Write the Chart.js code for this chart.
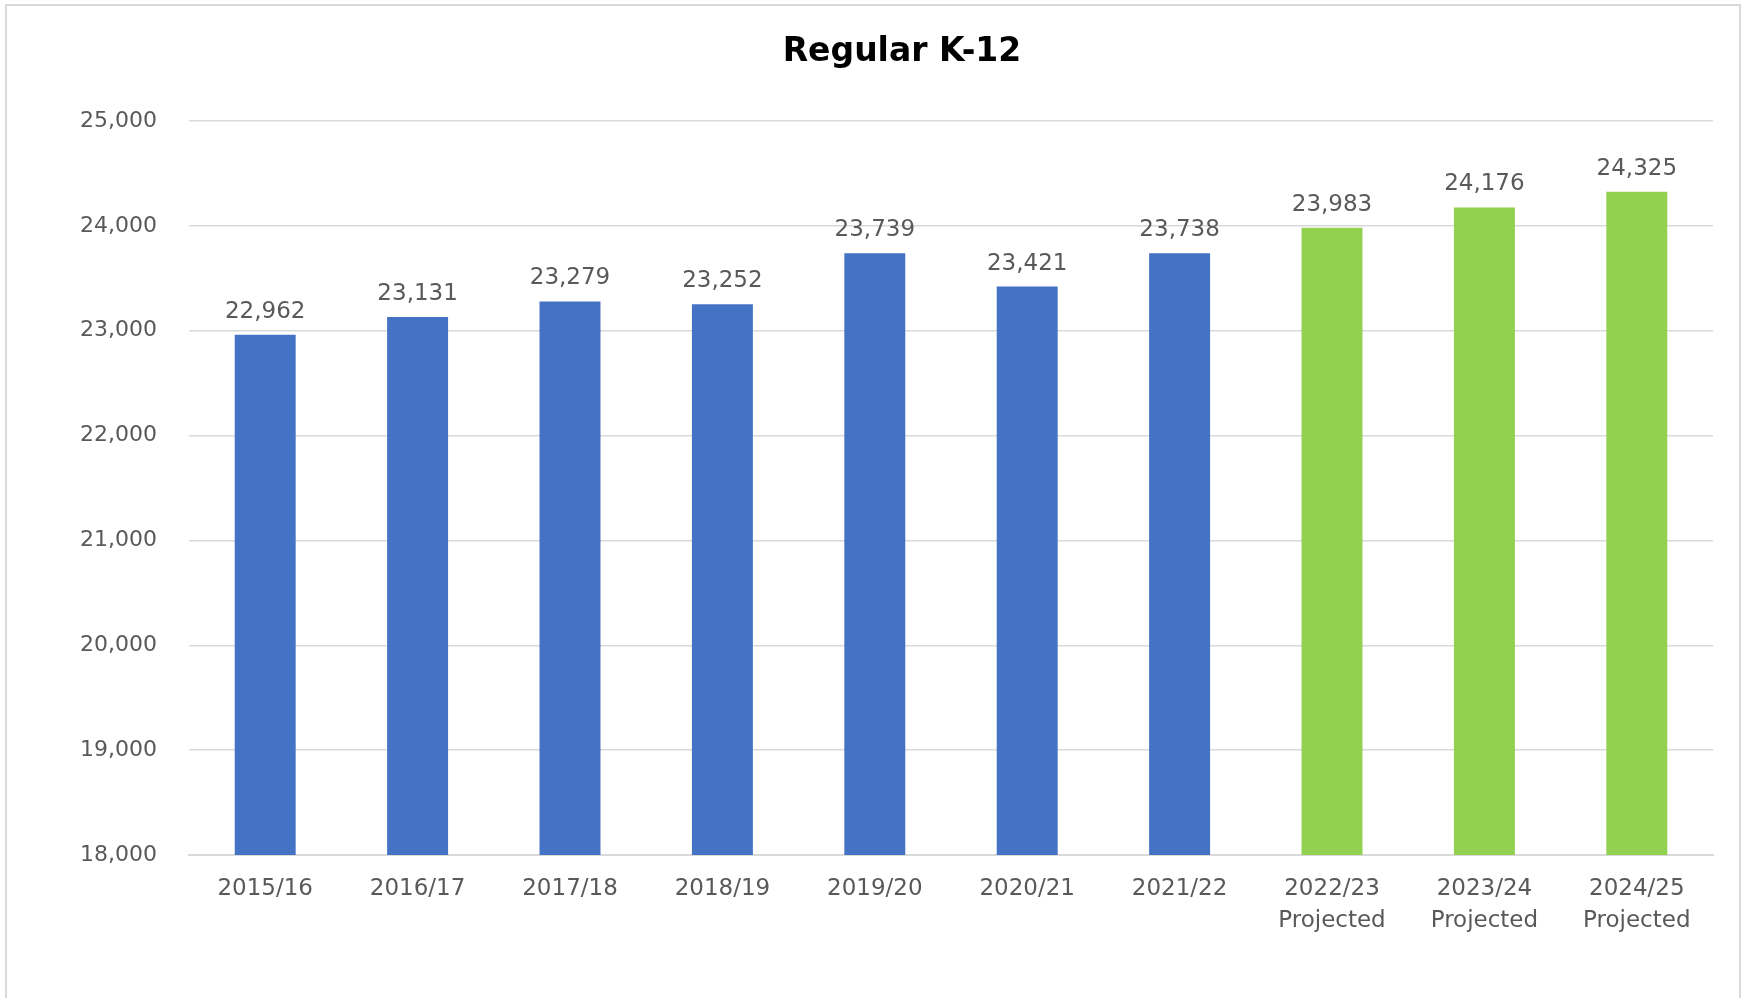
<!DOCTYPE html>
<html>
<head>
<meta charset="utf-8">
<script src="https://cdn.jsdelivr.net/npm/chart.js@4/dist/chart.umd.min.js"></script>
<style>
  html, body { margin: 0; padding: 0; background: #ffffff; }
  #frame { position: absolute; left: 5px; top: 4px; width: 1736px; height: 1000px; border: 2px solid #d9d9d9; box-sizing: border-box; }
  #wrap { position: absolute; left: 0; top: 0; width: 1747px; height: 998px; }
</style>
</head>
<body>
<div id="frame"></div>
<div id="wrap"><canvas id="c"></canvas></div>
<script>
const title = "Regular K-12";
const categories = [
  "2015/16", "2016/17", "2017/18", "2018/19", "2019/20", "2020/21", "2021/22",
  ["2022/23", "Projected"], ["2023/24", "Projected"], ["2024/25", "Projected"]
];
const enrolment = [22962, 23131, 23279, 23252, 23739, 23421, 23738, 23983, 24176, 24325];
const projected = [false, false, false, false, false, false, false, true, true, true];
const yTicks = [18000, 19000, 20000, 21000, 22000, 23000, 24000, 25000];

const BLUE = "#4472C4";
const GREEN = "#92D050";
const TEXT = "#595959";
const FONT = "'DejaVu Sans', sans-serif";

const valueLabels = {
  id: "valueLabels",
  afterDatasetsDraw(chart) {
    const ctx = chart.ctx;
    const meta = chart.getDatasetMeta(0);
    ctx.save();
    ctx.font = "23px " + FONT;
    ctx.fillStyle = TEXT;
    ctx.textAlign = "center";
    ctx.textBaseline = "middle";
    meta.data.forEach((bar, i) => {
      const v = chart.data.datasets[0].data[i];
      ctx.fillText(v.toLocaleString("en-US"), bar.x, bar.y - 23);
    });
    ctx.restore();
  }
};

// Title drawn as real canvas text, centred where the reference places it
const titlePlugin = {
  id: "offsetTitle",
  afterDraw(chart) {
    const ctx = chart.ctx;
    ctx.save();
    ctx.font = "bold 33px " + FONT;
    ctx.fillStyle = "#000000";
    ctx.textAlign = "center";
    ctx.textBaseline = "alphabetic";
    ctx.fillText(title, 902, 61);
    ctx.restore();
  }
};

new Chart(document.getElementById("c"), {
  type: "bar",
  data: {
    labels: categories,
    datasets: [{
      data: enrolment,
      backgroundColor: projected.map(p => p ? GREEN : BLUE),
      borderWidth: 0,
      barPercentage: 0.4,
      categoryPercentage: 1.0
    }]
  },
  options: {
    responsive: true,
    maintainAspectRatio: false,
    animation: false,
    layout: { padding: { left: 61, right: 34, top: 121, bottom: 0 } },
    plugins: {
      legend: { display: false },
      tooltip: { enabled: false },
      title: { display: false }
    },
    scales: {
      x: {
        afterFit(scale) { scale.height = 143; },
        grid: { display: false, drawTicks: false },
        border: { display: true, color: "#d9d9d9", width: 2 },
        ticks: {
          color: TEXT,
          font: { family: FONT, size: 23, lineHeight: 1.38 },
          padding: 18,
          maxRotation: 0,
          autoSkip: false
        }
      },
      y: {
        min: 18000,
        max: 25000,
        afterBuildTicks(scale) { scale.ticks = yTicks.map(v => ({ value: v })); },
        afterFit(scale) { scale.width = 128; },
        grid: { color: "#d9d9d9", lineWidth: 1.5, drawTicks: false },
        border: { display: false },
        ticks: {
          color: TEXT,
          font: { family: FONT, size: 22 },
          padding: 32,
          callback: v => Number(v).toLocaleString("en-US")
        }
      }
    }
  },
  plugins: [valueLabels, titlePlugin]
});
</script>
</body>
</html>
